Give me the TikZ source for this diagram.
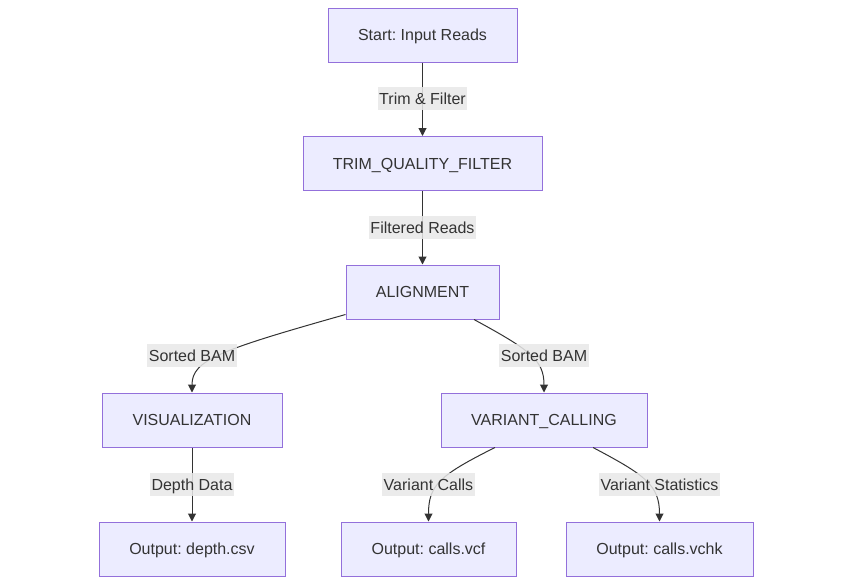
\documentclass[tikz,border=0pt]{standalone}
\usepackage{fontspec}
\setmainfont{Liberation Sans}
\usetikzlibrary{arrows.meta}
\frenchspacing
\definecolor{nodefill}{HTML}{ECECFF}
\definecolor{nodeborder}{HTML}{9370DB}
\definecolor{txt}{HTML}{333333}
\definecolor{lblbg}{HTML}{E8E8E8}
\begin{document}
\begin{tikzpicture}[x=1pt,y=-1pt,
  box/.style={draw=nodeborder,fill=nodefill,line width=1pt,text=txt,inner sep=0pt,
    minimum height=54pt,text height=12pt,text depth=0.5pt,font=\fontsize{16}{19}\selectfont\frenchspacing},
  lbl/.style={fill=lblbg,fill opacity=0.85,text opacity=1,text=txt,inner xsep=1.5pt,inner ysep=0pt,
    minimum height=23pt,text height=12pt,text depth=0.5pt,font=\fontsize{16}{19}\selectfont\frenchspacing},
  edge/.style={draw=txt,line width=1pt,-{Triangle[length=8pt,width=8pt]}}]
\useasboundingbox (0,0) rectangle (852,584);
\node[box,minimum width=189pt] (start) at (422.5,35) {Start: Input Reads};
\node[box,minimum width=239pt] (trim) at (422.5,163.5) {TRIM\_QUALITY\_FILTER};
\node[box,minimum width=153pt] (al) at (422.5,292) {ALIGNMENT};
\node[box,minimum width=180pt] (vis) at (192,420) {VISUALIZATION};
\node[box,minimum width=206pt] (vc) at (544,420) {VARIANT\_CALLING};
\node[box,minimum width=186pt] (depth) at (192,549) {Output: depth.csv};
\node[box,minimum width=175pt] (vcf) at (428.5,549) {Output: calls.vcf};
\node[box,minimum width=187pt] (vchk) at (659.5,549) {Output: calls.vchk};

\draw[edge] (start) -- (trim);
\draw[edge] (trim) -- (al);
\draw[edge] ([yshift=5pt]al.south west) .. controls (220,350) and (192,360) .. (vis.north);
\draw[edge] ([xshift=51.5pt]al.south) .. controls (530,350) and (544,360) .. (vc.north);
\draw[edge] (vis) -- (depth);
\draw[edge] ([xshift=-49pt]vc.south) .. controls (440,475) and (428.5,485) .. (vcf.north);
\draw[edge] ([xshift=49pt]vc.south) .. controls (645,475) and (659.5,485) .. (vchk.north);

\node[lbl] (l1) at (422.5,98.5) {Trim \& Filter};
\node[lbl] (l2) at (422.5,227.5) {Filtered Reads};
\node[lbl] (l3) at (192,355.5) {Sorted BAM};
\node[lbl] (l4) at (544,355.5) {Sorted BAM};
\node[lbl] (l5) at (192,484.5) {Depth Data};
\node[lbl] (l6) at (428.5,484.5) {Variant Calls};
\node[lbl] (l7) at (659.5,484.5) {Variant Statistics};
\end{tikzpicture}
\end{document}
